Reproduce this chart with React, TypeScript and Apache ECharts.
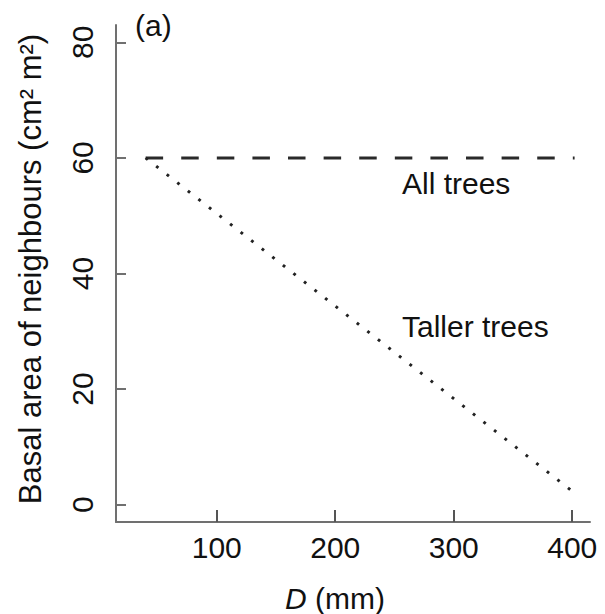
import React, { useEffect, useRef } from "react";
import * as echarts from "echarts";

// Basal area of neighbours against stem diameter D
const allTreesD = [40, 402];
const allTreesBA = [60, 60];
const tallerTreesD = [40, 402];
const tallerTreesBA = [60, 2];

const xTicks = [100, 200, 300, 400];
const yTicks = [0, 20, 40, 60, 80];

const FONT = '"Liberation Sans", Arial, Helvetica, sans-serif';
const INK = "#111";
const AXIS = "#707070";

export default function App() {
  const ref = useRef<HTMLDivElement>(null);

  useEffect(() => {
    if (!ref.current) return;
    const chart = echarts.init(ref.current, undefined, { renderer: "svg" });

    const pairs = (xs: number[], ys: number[]) => xs.map((x, i) => [x, ys[i]]);

    chart.setOption({
      animation: false,
      backgroundColor: "#fff",
      grid: { left: 116, right: 15, top: 25, bottom: 92, containLabel: false },
      xAxis: {
        type: "value",
        min: 15,
        max: 415,
        axisLine: { show: true, onZero: false, lineStyle: { color: AXIS, width: 2 } },
        axisTick: {
          show: true,
          inside: true,
          length: 12,
          customValues: xTicks,
          lineStyle: { color: "#555", width: 2 },
        },
        axisLabel: {
          customValues: xTicks,
          fontSize: 30,
          fontFamily: FONT,
          color: INK,
          margin: 10,
        },
        splitLine: { show: false },
      },
      yAxis: {
        type: "value",
        min: -3,
        max: 83,
        axisLine: { show: true, onZero: false, lineStyle: { color: AXIS, width: 2 } },
        axisTick: {
          show: true,
          inside: true,
          length: 10,
          customValues: yTicks,
          lineStyle: { color: AXIS, width: 2 },
        },
        axisLabel: {
          customValues: yTicks,
          rotate: 90,
          fontSize: 30,
          fontFamily: FONT,
          color: INK,
          margin: 19,
        },
        splitLine: { show: false },
      },
      series: [
        {
          name: "All trees",
          type: "line",
          data: pairs(allTreesD, allTreesBA),
          symbol: "none",
          lineStyle: { color: "#2a2a2a", width: 3, type: [17.5, 18.1] },
        },
        {
          name: "Taller trees",
          type: "line",
          data: pairs(tallerTreesD, tallerTreesBA),
          symbol: "none",
          lineStyle: { color: "#222", width: 3, type: [2.8, 10.6] },
        },
      ],
      graphic: [
        {
          type: "text",
          x: 30,
          y: 269,
          rotation: Math.PI / 2,
          style: {
            text: "Basal area of neighbours (cm² m²)",
            font: `31px ${FONT}`,
            fill: INK,
            align: "center",
            verticalAlign: "middle",
          },
        },
        {
          type: "text",
          x: 285,
          y: 598,
          style: {
            text: "{i|D} (mm)",
            font: `30px ${FONT}`,
            fill: INK,
            align: "left",
            verticalAlign: "middle",
            rich: {
              i: { fontStyle: "italic", fontSize: 30, fontFamily: FONT, fill: INK },
            },
          },
        },
        {
          type: "text",
          x: 135,
          y: 25,
          style: {
            text: "(a)",
            font: `30px ${FONT}`,
            fill: INK,
            align: "left",
            verticalAlign: "middle",
          },
        },
        {
          type: "text",
          x: 402,
          y: 183,
          style: {
            text: "All trees",
            font: `30px ${FONT}`,
            fill: INK,
            align: "left",
            verticalAlign: "middle",
          },
        },
        {
          type: "text",
          x: 402,
          y: 326,
          style: {
            text: "Taller trees",
            font: `30px ${FONT}`,
            fill: INK,
            align: "left",
            verticalAlign: "middle",
          },
        },
      ],
    });

    return () => chart.dispose();
  }, []);

  return (
    <div
      ref={ref}
      style={{ position: "absolute", left: 0, top: 0, width: 605, height: 614, background: "#fff" }}
    />
  );
}
